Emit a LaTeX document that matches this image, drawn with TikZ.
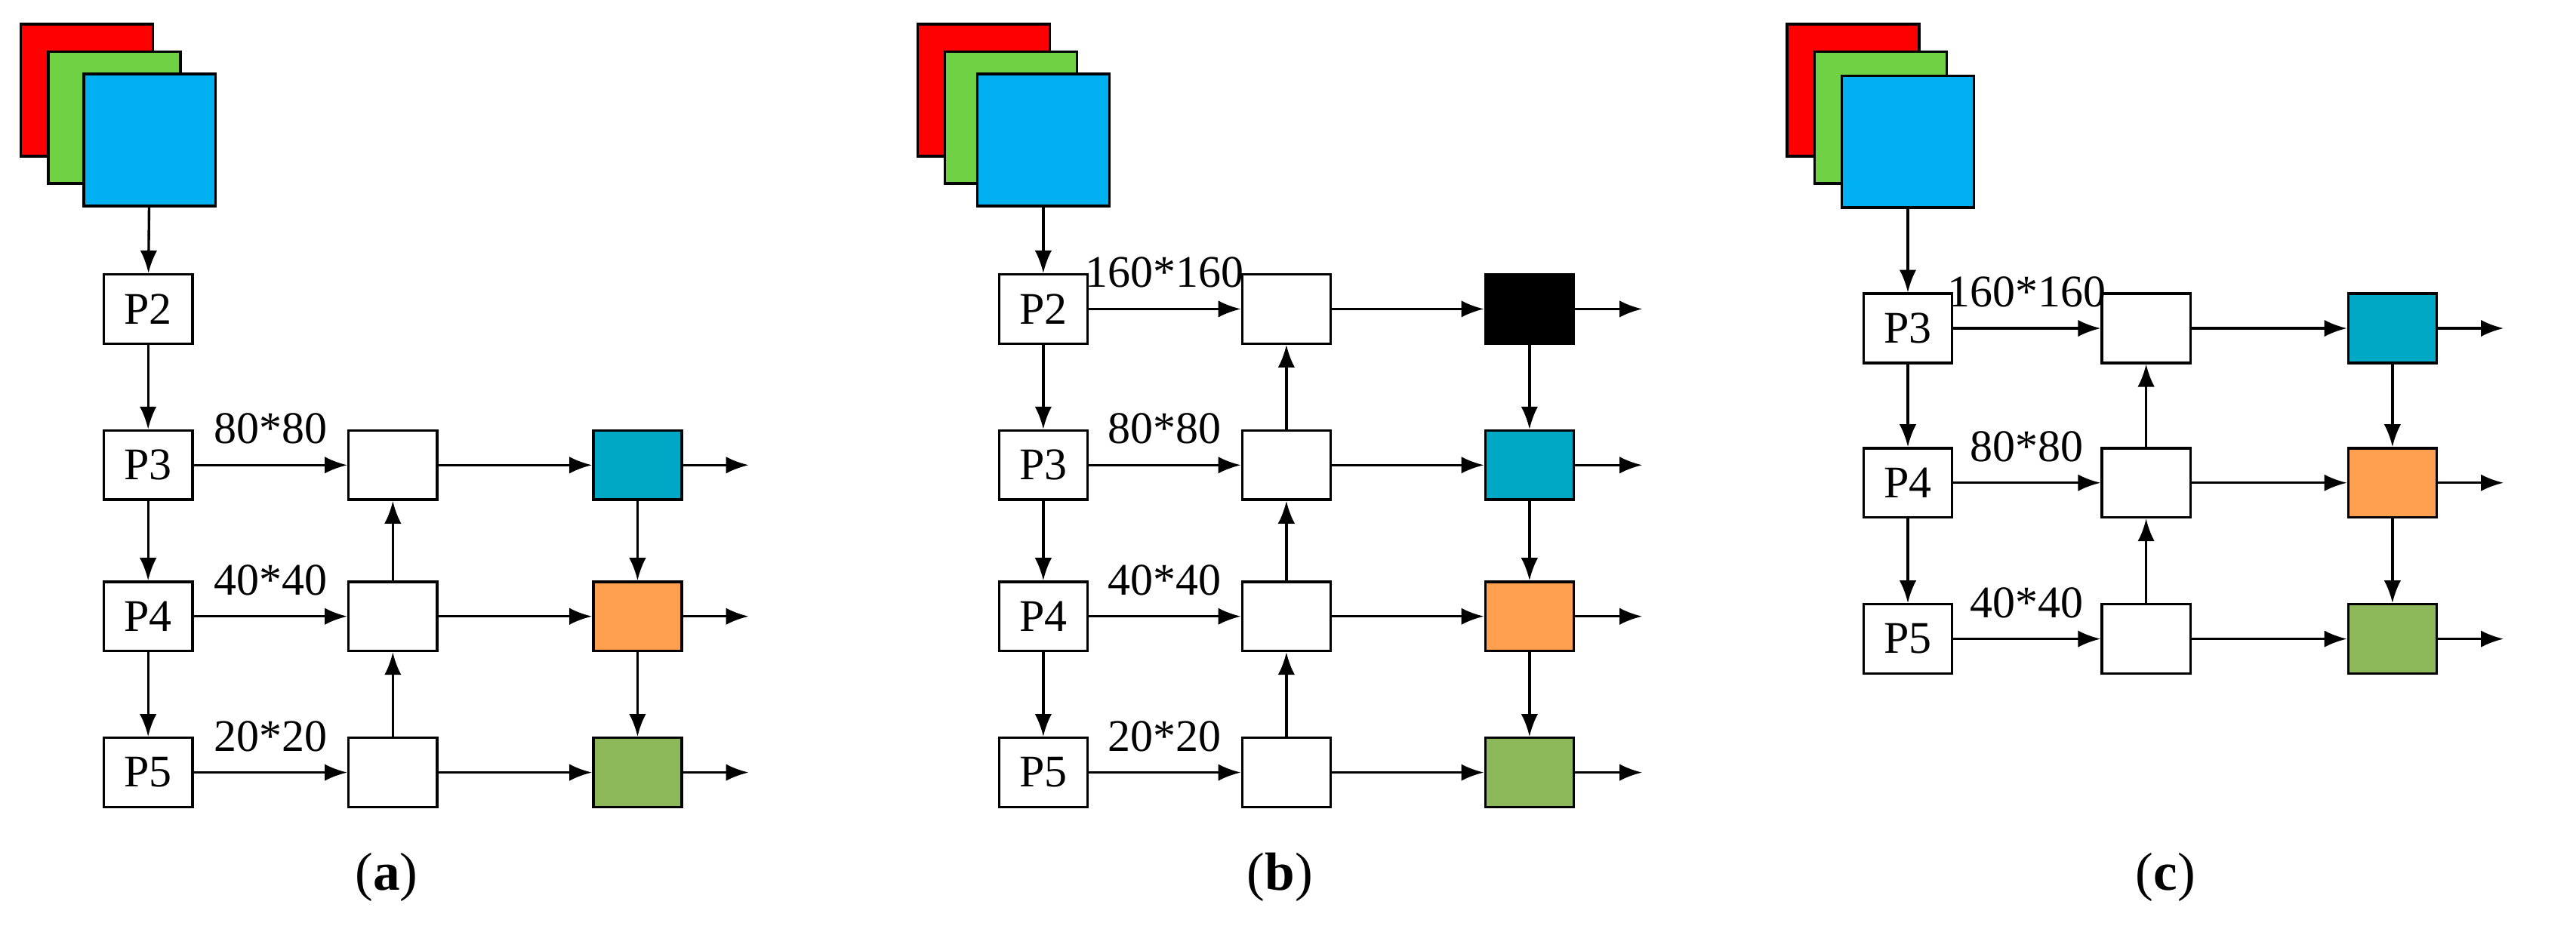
\documentclass[tikz,border=0pt]{standalone}
\usepackage{fontspec}
\setmainfont{Liberation Serif}
\usetikzlibrary{arrows.meta}
\definecolor{cR}{HTML}{FF0000}\definecolor{cG}{HTML}{6FD144}\definecolor{cB}{HTML}{00B0F0}
\definecolor{cT}{HTML}{00A8C6}\definecolor{cO}{HTML}{FFA050}\definecolor{cL}{HTML}{8DB85A}
\begin{document}
\begin{tikzpicture}[x=0.02cm,y=-0.02cm,line width=0.9pt,
  box/.style={draw,minimum width=1.1cm,minimum height=0.86cm,inner sep=0pt,font=\fontsize{16}{19}\selectfont},
  sq/.style={draw,minimum width=1.64cm,minimum height=1.64cm,inner sep=0pt},
  arr/.style={-{Latex[length=8pt,width=6pt]}},
  lab/.style={font=\fontsize{16}{19}\selectfont,inner sep=0pt},
  captxt/.style={font=\fontsize{19}{22}\selectfont}]
\useasboundingbox (0,0) rectangle (1600,577);
% ---- panel a
\node[sq,fill=cR] (aR) at (54,56) {};
\node[sq,fill=cG] (aG) at (71,73) {};
\node[sq,fill=cB] (aB) at (93,87) {};
\node[box] (aP2) at (92,192) {P2};
\node[box] (aP3) at (92,289) {P3};
\node[box] (aP4) at (92,383) {P4};
\node[box] (aP5) at (92,480) {P5};
\node[box] (aM3) at (244,289) {};
\node[box] (aM4) at (244,383) {};
\node[box] (aM5) at (244,480) {};
\node[box,fill=cT] (aC3) at (396,289) {};
\node[box,fill=cO] (aC4) at (396,383) {};
\node[box,fill=cL] (aC5) at (396,480) {};
\coordinate (aO3) at (465,289);\coordinate (aO4) at (465,383);\coordinate (aO5) at (465,480);
\draw[arr] (aB) -- (aP2);\draw[arr] (aP2) -- (aP3);\draw[arr] (aP3) -- (aP4);\draw[arr] (aP4) -- (aP5);
\draw[arr] (aP3) -- node[lab,above=7pt]{80*80} (aM3);
\draw[arr] (aP4) -- node[lab,above=7pt]{40*40} (aM4);
\draw[arr] (aP5) -- node[lab,above=7pt]{20*20} (aM5);
\draw[arr] (aM5) -- (aM4);\draw[arr] (aM4) -- (aM3);
\draw[arr] (aM3) -- (aC3);\draw[arr] (aM4) -- (aC4);\draw[arr] (aM5) -- (aC5);
\draw[arr] (aC3) -- (aC4);\draw[arr] (aC4) -- (aC5);
\draw[arr] (aC3) -- (aO3);\draw[arr] (aC4) -- (aO4);\draw[arr] (aC5) -- (aO5);
\node[captxt] (aCap) at (240,545) {(\textbf{a})};
% ---- panel b
\node[sq,fill=cR] (bR) at (611,56) {};
\node[sq,fill=cG] (bG) at (628,73) {};
\node[sq,fill=cB] (bB) at (648,87) {};
\node[box] (bP2) at (648,192) {P2};
\node[box] (bP3) at (648,289) {P3};
\node[box] (bP4) at (648,383) {P4};
\node[box] (bP5) at (648,480) {P5};
\node[box] (bM2) at (799,192) {};
\node[box] (bM3) at (799,289) {};
\node[box] (bM4) at (799,383) {};
\node[box] (bM5) at (799,480) {};
\node[box,fill=black] (bC2) at (950,192) {};
\node[box,fill=cT] (bC3) at (950,289) {};
\node[box,fill=cO] (bC4) at (950,383) {};
\node[box,fill=cL] (bC5) at (950,480) {};
\coordinate (bO2) at (1020,192);\coordinate (bO3) at (1020,289);\coordinate (bO4) at (1020,383);\coordinate (bO5) at (1020,480);
\draw[arr] (bB) -- (bP2);\draw[arr] (bP2) -- (bP3);\draw[arr] (bP3) -- (bP4);\draw[arr] (bP4) -- (bP5);
\draw[arr] (bP2) -- node[lab,above=7pt]{160*160} (bM2);
\draw[arr] (bP3) -- node[lab,above=7pt]{80*80} (bM3);
\draw[arr] (bP4) -- node[lab,above=7pt]{40*40} (bM4);
\draw[arr] (bP5) -- node[lab,above=7pt]{20*20} (bM5);
\draw[arr] (bM5) -- (bM4);\draw[arr] (bM4) -- (bM3);\draw[arr] (bM3) -- (bM2);
\draw[arr] (bM2) -- (bC2);\draw[arr] (bM3) -- (bC3);\draw[arr] (bM4) -- (bC4);\draw[arr] (bM5) -- (bC5);
\draw[arr] (bC2) -- (bC3);\draw[arr] (bC3) -- (bC4);\draw[arr] (bC4) -- (bC5);
\draw[arr] (bC2) -- (bO2);\draw[arr] (bC3) -- (bO3);\draw[arr] (bC4) -- (bO4);\draw[arr] (bC5) -- (bO5);
\node[captxt] (bCap) at (795,545) {(\textbf{b})};
% ---- panel c
\node[sq,fill=cR] (cR) at (1151,56) {};
\node[sq,fill=cG] (cG) at (1168,73) {};
\node[sq,fill=cB] (cB) at (1185,88) {};
\node[box] (cP3) at (1185,204) {P3};
\node[box] (cP4) at (1185,300) {P4};
\node[box] (cP5) at (1185,397) {P5};
\node[box] (cM3) at (1333,204) {};
\node[box] (cM4) at (1333,300) {};
\node[box] (cM5) at (1333,397) {};
\node[box,fill=cT] (cC3) at (1486,204) {};
\node[box,fill=cO] (cC4) at (1486,300) {};
\node[box,fill=cL] (cC5) at (1486,397) {};
\coordinate (cO3) at (1555,204);\coordinate (cO4) at (1555,300);\coordinate (cO5) at (1555,397);
\draw[arr] (cB) -- (cP3);\draw[arr] (cP3) -- (cP4);\draw[arr] (cP4) -- (cP5);
\draw[arr] (cP3) -- node[lab,above=7pt]{160*160} (cM3);
\draw[arr] (cP4) -- node[lab,above=7pt]{80*80} (cM4);
\draw[arr] (cP5) -- node[lab,above=7pt]{40*40} (cM5);
\draw[arr] (cM5) -- (cM4);\draw[arr] (cM4) -- (cM3);
\draw[arr] (cM3) -- (cC3);\draw[arr] (cM4) -- (cC4);\draw[arr] (cM5) -- (cC5);
\draw[arr] (cC3) -- (cC4);\draw[arr] (cC4) -- (cC5);
\draw[arr] (cC3) -- (cO3);\draw[arr] (cC4) -- (cO4);\draw[arr] (cC5) -- (cO5);
\node[captxt] (cCap) at (1345,545) {(\textbf{c})};
\end{tikzpicture}
\end{document}
